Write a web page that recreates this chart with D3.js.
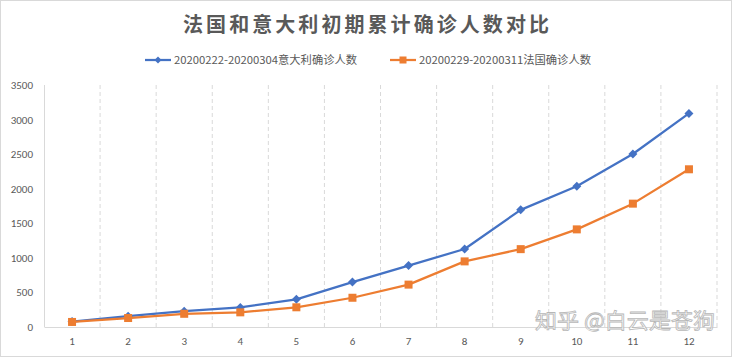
<!DOCTYPE html>
<html><head><meta charset="utf-8">
<script src="https://cdn.jsdelivr.net/npm/d3@7"></script>
<style>html,body{margin:0;padding:0;background:#fff;}svg{display:block;font-family:"Microsoft YaHei","Noto Sans CJK SC",sans-serif;}</style>
</head><body>
<svg id="c" width="732" height="357"></svg>
<script>
const categories = ["1","2","3","4","5","6","7","8","9","10","11","12"];
const italyValues = [79, 157, 229, 283, 400, 650, 888, 1128, 1694, 2036, 2502, 3089];
const franceValues = [73, 130, 191, 212, 285, 423, 613, 949, 1126, 1412, 1784, 2281];
const yTicks = [0, 500, 1000, 1500, 2000, 2500, 3000, 3500];
const seriesNames = ["20200222-20200304意大利确诊人数", "20200229-20200311法国确诊人数"];
const titleText = "法国和意大利初期累计确诊人数对比";
const watermark = "知乎 @白云是苍狗";

const svg = d3.select("#c");
const W = 732, H = 357;
svg.append("rect").attr("x",0.5).attr("y",0.5).attr("width",W-1).attr("height",H-1)
  .attr("fill","#fff").attr("stroke","#d9d9d9");

const pLeft = 44, pRight = 717, pTop = 85, pBottom = 327;
const x = d3.scaleBand().domain(categories).range([pLeft, pRight]).padding(0);
const y = d3.scaleLinear().domain([0, 3500]).range([pBottom, pTop]);

// vertical dashed gridlines at band boundaries
const bounds = categories.map(c => x(c)).concat([pRight]);
svg.append("g").selectAll("line").data(bounds.slice(1)).join("line")
  .attr("x1", d => d).attr("x2", d => d).attr("y1", pTop).attr("y2", pBottom)
  .attr("stroke", "#d9d9d9").attr("stroke-dasharray", "4,3").attr("stroke-width", 1);
// left axis line
svg.append("line").attr("x1", pLeft+0.5).attr("x2", pLeft+0.5).attr("y1", pTop).attr("y2", pBottom)
  .attr("stroke", "#d9d9d9");

const tickFont = "Calibri, Carlito, 'Liberation Sans', sans-serif";
// y axis labels
const yAxis = d3.axisLeft(y).tickValues(yTicks).tickFormat(d3.format("d")).tickSize(0).tickPadding(11);
const gy = svg.append("g").attr("transform", `translate(${pLeft},0)`).call(yAxis);
gy.select(".domain").remove();
gy.selectAll("text").attr("fill", "#595959").style("font-size", "11px").style("font-family", tickFont);

// x axis
const xAxis = d3.axisBottom(x).tickSize(0).tickPadding(10);
const gx = svg.append("g").attr("transform", `translate(0,${pBottom})`).call(xAxis);
gx.select(".domain").attr("stroke", "#d9d9d9");
gx.selectAll("text").attr("fill", "#595959").style("font-size", "11px").style("font-family", tickFont);

const colors = ["#4472C4", "#ED7D31"];
const data = [italyValues, franceValues];
const line = d3.line().x((d, i) => x(categories[i]) + x.bandwidth()/2).y(d => y(d));

data.forEach((vals, si) => {
  svg.append("path").datum(vals).attr("d", line).attr("fill", "none")
    .attr("stroke", colors[si]).attr("stroke-width", 2.25).attr("stroke-linejoin", "round");
  const g = svg.append("g");
  vals.forEach((v, i) => {
    const cx = x(categories[i]) + x.bandwidth()/2, cy = y(v);
    if (si === 0) {
      g.append("path").attr("d", `M${cx},${cy-4.5}L${cx+4.5},${cy}L${cx},${cy+4.5}L${cx-4.5},${cy}Z`)
        .attr("fill", colors[si]);
    } else {
      g.append("rect").attr("x", cx-4).attr("y", cy-4).attr("width", 8).attr("height", 8)
        .attr("fill", colors[si]);
    }
  });
});

// title
svg.append("text").attr("x", 183).attr("y", 32)
  .attr("fill", "#595959").style("font-size", "20px").style("font-weight", "bold")
  .attr("textLength", 366).attr("lengthAdjust", "spacing").text(titleText);

// legend
const legendX = [145, 390];
const legendW = [183, 172];
seriesNames.forEach((n, si) => {
  const lx = legendX[si], ly = 60;
  svg.append("line").attr("x1", lx).attr("x2", lx+26).attr("y1", ly).attr("y2", ly)
    .attr("stroke", colors[si]).attr("stroke-width", 2.25);
  const cx = lx + 13;
  if (si === 0) svg.append("path").attr("d", `M${cx},${ly-3.5}L${cx+3.5},${ly}L${cx},${ly+3.5}L${cx-3.5},${ly}Z`).attr("fill", colors[si]);
  else svg.append("rect").attr("x", cx-3.5).attr("y", ly-3.5).attr("width", 7).attr("height", 7).attr("fill", colors[si]);
  svg.append("text").attr("x", lx+29).attr("y", ly+4).attr("fill", "#595959")
    .style("font-size", "11px").attr("textLength", legendW[si]).attr("lengthAdjust", "spacingAndGlyphs").text(n);
});

// watermark
svg.append("text").attr("x", 535).attr("y", 328).attr("fill", "#ffffff")
  .attr("stroke", "#b0b0b0").attr("stroke-width", 0.8).attr("opacity", 0.9)
  .style("font-size", "21px").attr("textLength", 180).attr("lengthAdjust", "spacingAndGlyphs").text(watermark);
</script>
</body></html>
